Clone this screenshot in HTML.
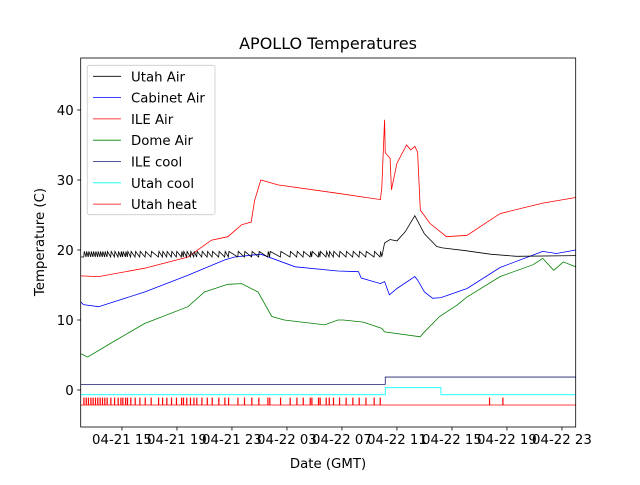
<!DOCTYPE html>
<html><head><meta charset="utf-8"><style>
body{margin:0;background:#fff}
svg text{font-family:"DejaVu Sans","Liberation Sans",sans-serif;fill:#000}
</style></head><body>
<svg id="chart" width="640" height="480" viewBox="0 0 640 480" xmlns="http://www.w3.org/2000/svg">
<rect width="640" height="480" fill="#fff"/>
<text x="328" y="49" font-size="16" text-anchor="middle">APOLLO Temperatures</text>
<g id="plot"></g>
<g id="axes"></g>
<text x="328" y="468" font-size="13.3" text-anchor="middle">Date (GMT)</text>
<text transform="translate(44,242) rotate(-90)" font-size="13.3" text-anchor="middle">Temperature (C)</text>
<g id="legend"></g>
</svg>
<script>
const xTickHours=[15,19,23,27,31,35,39,43,47];
const xTickLabels=["04-21 15","04-21 19","04-21 23","04-22 03","04-22 07","04-22 11","04-22 15","04-22 19","04-22 23"];
const yTicks=[0,10,20,30,40];
const seriesNames=["Utah Air","Cabinet Air","ILE Air","Dome Air","ILE cool","Utah cool","Utah heat"];
const seriesColors=["#000000","#0000ff","#ff0000","#008000","#191970","#00ffff","#ff0000"];
const heatTimes=[12.22,12.39,12.55,12.73,12.89,13.06,13.23,13.40,13.57,13.74,13.91,14.18,14.45,14.71,14.91,15.05,15.25,15.39,15.63,15.95,16.29,16.68,17.11,17.65,17.94,18.25,18.59,18.95,19.32,19.46,19.70,19.97,20.22,20.43,20.80,21.19,21.55,22.03,22.47,22.74,23.42,23.90,24.43,24.94,25.60,25.74,26.52,27.22,27.71,28.17,28.68,28.80,29.28,29.40,29.84,30.06,30.37,30.81,31.29,31.78,32.24,32.73,33.33,33.77,41.72,42.69];
const utahAirLate=[[33.9,19.05],[34.1,21],[34.5,21.5],[35.0,21.3],[35.6,22.6],[36.3,24.9],[37.0,22.3],[37.9,20.5],[38.3,20.3],[40,19.9],[41.8,19.4],[43.7,19.1],[48,19.2]];
const cabinetAir=[[12,12.6],[12.2,12.2],[13.3,11.9],[16.65,14.0],[19.8,16.4],[22.5,18.6],[23.2,19.0],[25.1,19.4],[27.6,17.6],[30.7,17.0],[32.2,16.9],[32.4,16.0],[33.8,15.2],[34.1,15.5],[34.45,13.6],[35.0,14.5],[36.3,16.2],[36.5,15.7],[37.0,14.0],[37.6,13.1],[38.2,13.2],[40.1,14.5],[42.5,17.5],[45.6,19.8],[46.6,19.5],[48,20.0]];
const ileAir=[[12,16.3],[13.3,16.2],[16.65,17.4],[19.8,19.0],[21.5,21.4],[22.7,21.9],[23.7,23.6],[24.4,24.0],[24.65,27.1],[25.1,30.0],[26.35,29.3],[30.7,28.1],[33.8,27.2],[33.9,29.0],[34.1,38.6],[34.15,33.9],[34.5,33.1],[34.6,28.6],[35.0,32.4],[35.7,35.0],[36.0,34.3],[36.3,34.8],[36.5,34.0],[36.7,25.7],[37.4,23.8],[38.6,21.9],[40.1,22.1],[42.5,25.2],[45.6,26.7],[48,27.5]];
const domeAir=[[12,5.2],[12.5,4.7],[14.2,6.7],[16.65,9.5],[19.8,11.9],[21.0,14.0],[22.7,15.1],[23.7,15.2],[24.9,14.0],[25.9,10.5],[26.8,10.0],[29.75,9.3],[30.7,10.0],[31.1,10.0],[32.55,9.7],[33.9,8.8],[34.1,8.3],[36.7,7.6],[36.9,8.1],[38.1,10.5],[39.35,12.1],[40.1,13.3],[42.5,16.2],[44.9,17.9],[45.6,18.8],[46.4,17.1],[47.1,18.3],[48,17.6]];
const ileCool=[[12,0.8],[34.15,0.8],[34.15,1.85],[48,1.85]];
const utahCool=[[12,-0.67],[34.15,-0.67],[34.15,0.33],[38.2,0.33],[38.2,-0.67],[48,-0.67]];
const heatLow=-2.14, heatHigh=-1.14;
const utahAirLow=19.0, utahAirHigh=19.8;

const X0=80.7,X1=575.7,Y0=58,Y1=427,H0=12,H1=48;
function xs(h){return X0+(h-H0)*(X1-X0)/(H1-H0);}
function ys(v){return 390-7*v;}
const NS="http://www.w3.org/2000/svg";
function mk(tag,attrs,parent){const e=document.createElementNS(NS,tag);for(const k in attrs)e.setAttribute(k,attrs[k]);parent.appendChild(e);return e;}
const plot=document.getElementById('plot'),axes=document.getElementById('axes'),legend=document.getElementById('legend');
function poly(pts,color,name){const p=mk('polyline',{points:pts.map(q=>xs(q[0]).toFixed(2)+','+ys(q[1]).toFixed(2)).join(' '),fill:'none',stroke:color,'stroke-width':0.8},plot);

}
// Utah air: sawtooth on heater cycles then late curve
const ua=[[12,utahAirLow]];
heatTimes.filter(t=>t<33.9).forEach(t=>{ua.push([t,utahAirLow]);ua.push([t+0.04,utahAirHigh]);});
utahAirLate.forEach(q=>ua.push(q));
poly(cabinetAir,seriesColors[1],'cabinet-air-line');
poly(ileAir,seriesColors[2],'ile-air-line');
poly(domeAir,seriesColors[3],'dome-air-line');
poly(ua,seriesColors[0],'utah-air-line');
poly(ileCool,seriesColors[4],'ile-cool-line');
poly(utahCool,seriesColors[5],'utah-cool-line');
const uh=[[12,heatLow]];
heatTimes.forEach(t=>{uh.push([t,heatLow]);uh.push([t,heatHigh]);uh.push([t+0.03,heatHigh]);uh.push([t+0.03,heatLow]);});
uh.push([48,heatLow]);
poly(uh,seriesColors[6],'utah-heat-line');
// frame
const fr=mk('rect',{x:X0,y:Y0,width:X1-X0,height:Y1-Y0,fill:'none',stroke:'#000','stroke-width':0.8},axes);


xTickHours.forEach((h,i)=>{const x=xs(h);
const t=mk('line',{x1:x,x2:x,y1:Y1,y2:Y1+3.5,stroke:'#000','stroke-width':0.8},axes);


const l=mk('text',{x:x,y:Y1+17,'font-size':13.3,'text-anchor':'middle'},axes);l.textContent=xTickLabels[i];

});
yTicks.forEach(v=>{const y=ys(v);
const t=mk('line',{x1:X0-3.5,x2:X0,y1:y,y2:y,stroke:'#000','stroke-width':0.8},axes);


const l=mk('text',{x:X0-7,y:y+5,'font-size':13.3,'text-anchor':'end'},axes);l.textContent=v;

});
// legend
const lb=mk('rect',{x:87.3,y:65.3,width:127.7,height:149.4,rx:2,fill:'#fff','fill-opacity':0.8,stroke:'#ccc','stroke-width':0.8},legend);


seriesNames.forEach((n,i)=>{const y=76.3+i*21.3;
const g=mk('g',{},legend);


mk('line',{x1:93,x2:121,y1:y,y2:y,stroke:seriesColors[i],'stroke-width':0.8},g);
const t=mk('text',{x:131,y:y+5,'font-size':13.3},g);t.textContent=n;});
</script>
</body></html>
